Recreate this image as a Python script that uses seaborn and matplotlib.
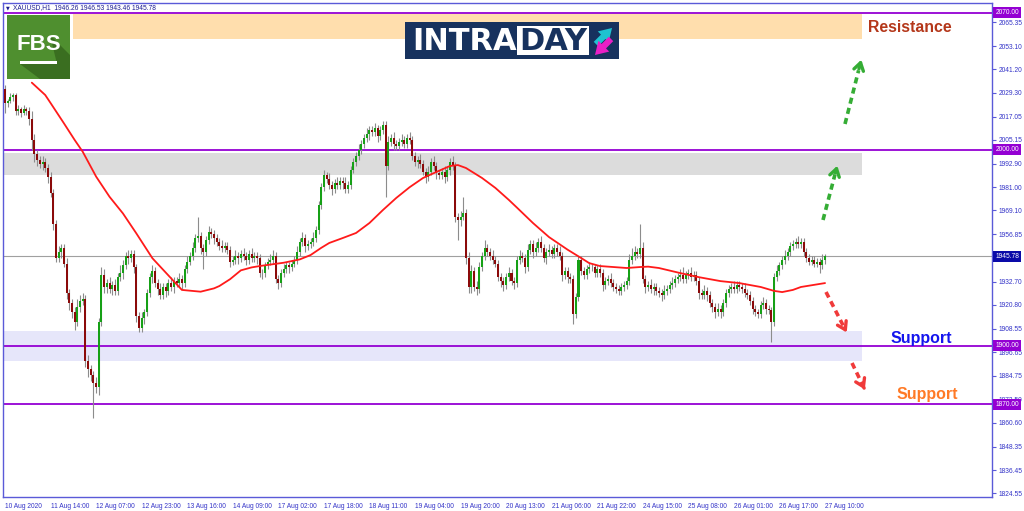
import numpy as np
import pandas as pd
import matplotlib
matplotlib.use("Agg")
import matplotlib.pyplot as plt
from matplotlib.patches import Rectangle, Polygon
import seaborn as sns

# ---- XAUUSD H1 candles (bar 0 = 10 Aug 2020) ----
first_open = 2031
closes = [
    2024, 2025, 2027, 2028, 2020, 2021, 2019, 2021, 2020, 2016,
    2005, 1998, 1995, 1993, 1994, 1991, 1986, 1978, 1962, 1945,
    1948, 1950, 1942, 1927, 1922, 1917, 1912, 1920, 1923, 1924,
    1892, 1888, 1885, 1881, 1879, 1912, 1936, 1930, 1932, 1929,
    1931, 1928, 1935, 1937, 1941, 1946, 1945, 1947, 1940, 1915,
    1909, 1914, 1917, 1927, 1935, 1938, 1932, 1929, 1926, 1930,
    1928, 1932, 1930, 1933, 1932, 1934, 1932, 1939, 1943, 1946,
    1950, 1955, 1956, 1950, 1948, 1954, 1958, 1957, 1955, 1953,
    1951, 1950, 1951, 1949, 1943, 1944, 1946, 1945, 1947, 1946,
    1944, 1947, 1945, 1946, 1945, 1937, 1937, 1941, 1943, 1944,
    1946, 1934, 1932, 1937, 1939, 1941, 1940, 1942, 1944, 1948,
    1953, 1955, 1951, 1952, 1953, 1955, 1959, 1972, 1981, 1987,
    1985, 1982, 1980, 1983, 1982, 1984, 1983, 1980, 1982, 1990,
    1994, 1997, 2000, 2003, 2006, 2008, 2010, 2009, 2011, 2007,
    2010, 2013, 1992, 2004, 2006, 2003, 2002, 2004, 2005, 2003,
    2006, 2005, 1997, 1994, 1995, 1993, 1989, 1986, 1989, 1994,
    1992, 1988, 1987, 1989, 1986, 1990, 1994, 1992, 1966, 1964,
    1966, 1968, 1945, 1930, 1938, 1930, 1929, 1940, 1946, 1950,
    1948, 1946, 1944, 1942, 1935, 1933, 1931, 1935, 1937, 1933,
    1932, 1944, 1946, 1945, 1940, 1949, 1952, 1948, 1950, 1953,
    1950, 1945, 1948, 1949, 1947, 1950, 1948, 1946, 1936, 1938,
    1935, 1934, 1916, 1925, 1944, 1938, 1936, 1939, 1940, 1940,
    1937, 1939, 1937, 1931, 1933, 1934, 1932, 1930, 1929, 1928,
    1930, 1931, 1933, 1944, 1946, 1948, 1947, 1950, 1934, 1930,
    1931, 1929, 1930, 1928, 1927, 1926, 1928, 1929, 1931, 1932,
    1934, 1935, 1936, 1934, 1936, 1937, 1935, 1936, 1933, 1927,
    1926, 1928, 1926, 1922, 1920, 1917, 1919, 1917, 1922, 1927,
    1929, 1930, 1929, 1931, 1930, 1929, 1927, 1926, 1923, 1919,
    1917, 1916, 1921, 1922, 1919, 1918, 1912, 1935, 1938, 1941,
    1944, 1946, 1948, 1951, 1952, 1953, 1952, 1953, 1948, 1945,
    1943, 1944, 1942, 1943, 1941, 1944, 1945.78,
]
wick_up = [
    2, 1, 2, 1, 1, 2, 1, 2, 1, 2,
    4, 3, 2, 2, 3, 2, 2, 3, 2, 2,
    3, 2, 2, 3, 2, 2, 3, 4, 3, 3,
    2, 3, 2, 2, 3, 2, 4, 3, 2, 3,
    2, 3, 2, 4, 3, 2, 3, 2, 2, 2,
    2, 3, 2, 2, 2, 3, 2, 2, 3, 2,
    2, 2, 3, 2, 2, 3, 2, 2, 3, 2,
    3, 2, 10, 2, 2, 2, 3, 2, 2, 2,
    2, 3, 2, 2, 2, 2, 3, 2, 2, 3,
    2, 2, 3, 2, 2, 2, 2, 2, 2, 3,
    3, 2, 2, 2, 3, 2, 2, 2, 2, 3,
    2, 3, 2, 2, 2, 3, 2, 2, 2, 3,
    2, 3, 2, 2, 3, 2, 2, 3, 2, 2,
    2, 2, 3, 2, 2, 3, 2, 2, 3, 2,
    2, 2, 2, 3, 2, 3, 2, 2, 3, 2,
    2, 3, 2, 2, 2, 3, 2, 2, 3, 2,
    3, 2, 2, 2, 3, 2, 2, 3, 2, 2,
    3, 8, 2, 3, 3, 2, 3, 3, 2, 4,
    2, 2, 3, 2, 2, 2, 2, 2, 3, 2,
    2, 2, 3, 2, 2, 3, 2, 2, 3, 2,
    3, 2, 2, 3, 2, 2, 2, 3, 2, 2,
    2, 2, 2, 2, 2, 2, 2, 2, 3, 2,
    2, 2, 3, 2, 2, 2, 3, 2, 2, 2,
    2, 2, 2, 3, 4, 3, 2, 12, 3, 2,
    2, 3, 2, 2, 2, 2, 3, 2, 2, 3,
    2, 2, 3, 4, 2, 2, 3, 2, 2, 2,
    2, 3, 2, 2, 2, 2, 3, 2, 2, 2,
    2, 2, 3, 2, 2, 2, 3, 2, 2, 2,
    2, 2, 2, 3, 2, 2, 2, 2, 3, 2,
    2, 3, 2, 2, 2, 2, 3, 2, 2, 2,
    2, 2, 2, 2, 2, 3, 1,
]
wick_dn = [
    5, 2, 1, 2, 2, 2, 2, 1, 2, 3,
    5, 4, 3, 2, 3, 2, 3, 2, 3, 2,
    2, 3, 2, 3, 4, 3, 4, 2, 3, 2,
    3, 4, 3, 18, 3, 4, 2, 3, 3, 2,
    3, 2, 2, 2, 3, 2, 3, 2, 3, 3,
    2, 2, 3, 2, 2, 3, 2, 3, 2, 2,
    3, 2, 2, 3, 2, 2, 3, 2, 2, 2,
    2, 2, 2, 3, 9, 2, 2, 2, 3, 2,
    2, 2, 2, 2, 3, 2, 2, 3, 2, 2,
    3, 2, 2, 2, 3, 2, 3, 2, 2, 2,
    2, 2, 3, 2, 2, 2, 3, 2, 2, 2,
    2, 2, 3, 2, 2, 2, 2, 2, 2, 2,
    2, 2, 3, 2, 2, 2, 3, 2, 2, 2,
    2, 2, 2, 2, 2, 2, 3, 2, 2, 3,
    2, 2, 16, 2, 2, 3, 2, 2, 2, 2,
    2, 2, 2, 2, 3, 2, 2, 3, 2, 2,
    2, 3, 2, 2, 3, 2, 3, 2, 3, 10,
    3, 2, 3, 3, 3, 2, 3, 2, 2, 2,
    2, 2, 2, 2, 2, 3, 3, 2, 2, 2,
    3, 2, 2, 2, 3, 2, 2, 3, 2, 2,
    2, 2, 3, 2, 2, 2, 2, 2, 3, 2,
    3, 2, 5, 2, 2, 2, 2, 2, 2, 2,
    2, 2, 2, 3, 2, 2, 2, 2, 2, 2,
    2, 2, 2, 2, 2, 2, 2, 2, 2, 3,
    2, 2, 3, 2, 2, 3, 2, 2, 2, 2,
    2, 2, 2, 2, 2, 2, 2, 2, 2, 3,
    2, 2, 3, 2, 3, 3, 2, 3, 2, 2,
    2, 2, 2, 2, 2, 2, 2, 2, 2, 3,
    2, 2, 2, 2, 3, 2, 10, 2, 2, 2,
    2, 2, 2, 2, 2, 2, 2, 2, 2, 2,
    2, 2, 2, 2, 4, 2, 2,
]

# red moving average, sampled along the line (bar index, price)
ma_bar = [10, 15, 17, 22, 26, 29, 34, 39, 44, 49, 55, 62, 66, 73, 78, 80, 84, 88,
          92, 95, 104, 110, 114, 118, 121, 126, 131, 136, 141, 146, 151, 156,
          161, 166, 169, 172, 178, 183, 188, 191, 197, 203, 210, 215, 218, 222,
          232, 237, 240, 244, 252, 259, 267, 274, 282, 287, 290, 294, 297, 306]
ma_val = [2034.4, 2028.1, 2024.0, 2013.6, 2005.1, 1999.1, 1986.4, 1976.1, 1967.6,
          1957.4, 1944.7, 1934.4, 1928.5, 1927.6, 1929.3, 1930.5, 1934.0, 1938.5,
          1940.0, 1940.7, 1942.4, 1944.1, 1946.3, 1950.0, 1952.5, 1955.0, 1957.6,
          1962.7, 1969.3, 1975.5, 1981.0, 1985.7, 1988.8, 1991.8, 1992.3, 1990.8,
          1985.7, 1980.6, 1974.5, 1970.6, 1962.7, 1955.5, 1949.0, 1944.8, 1942.2,
          1940.7, 1939.7, 1940.2, 1940.4, 1939.7, 1937.1, 1935.0, 1933.0, 1932.0,
          1930.0, 1928.0, 1927.4, 1928.5, 1930.0, 1932.0]

# levels and zones
levels = [2070.00, 2000.00, 1900.00, 1870.00]
last_price = 1945.78
resistance_zone = (2056.7, 2069.5)
upper_zone = (1987.2, 1998.5)
support_zone = (1892.2, 1907.5)

price_ticks = [2065.35, 2053.10, 2041.20, 2029.30, 2017.05, 2005.15, 1992.90,
               1981.00, 1969.10, 1956.85, 1932.70, 1920.80, 1908.55, 1896.65,
               1884.75, 1872.50, 1860.60, 1848.35, 1836.45, 1824.55]
time_labels = ["10 Aug 2020", "11 Aug 14:00", "12 Aug 07:00", "12 Aug 23:00",
               "13 Aug 16:00", "14 Aug 09:00", "17 Aug 02:00", "17 Aug 18:00",
               "18 Aug 11:00", "19 Aug 04:00", "19 Aug 20:00", "20 Aug 13:00",
               "21 Aug 06:00", "21 Aug 22:00", "24 Aug 15:00", "25 Aug 08:00",
               "26 Aug 01:00", "26 Aug 17:00", "27 Aug 10:00"]
time_step = 17

# ---- build OHLC table ----
df = pd.DataFrame({"close": closes})
df["open"] = df["close"].shift(1).fillna(first_open)
df["high"] = df[["open", "close"]].max(axis=1) + np.array(wick_up)
df["low"] = df[["open", "close"]].min(axis=1) - np.array(wick_dn)
df["bar"] = np.arange(len(df))
df["bull"] = df["close"] >= df["open"]

sns.set_style("white")
plt.rcParams['font.family'] = ['Liberation Sans', 'DejaVu Sans']

W, H = 1024, 511
AXIS_BLUE = "#5a5ad8"
TXT_BLUE = "#3434c8"
PURPLE = "#9400D3"
SMALL = 4.8

fig = plt.figure(figsize=(W / 100, H / 100), dpi=100)
ax = fig.add_axes([3 / W, 1 - 497 / H, (992 - 3) / W, (497 - 3) / H])
ax.set_xlim(-0.75, 368.3)
ax.set_ylim(1822.7, 2075.1)

# zones
ax.add_patch(Rectangle((25.4, resistance_zone[0]), 319.8 - 25.4,
                       resistance_zone[1] - resistance_zone[0],
                       color="#FFDEAD", lw=0, zorder=0))
ax.add_patch(Rectangle((-0.75, upper_zone[0]), 319.8 + 0.75,
                       upper_zone[1] - upper_zone[0],
                       color="#DCDCDC", lw=0, zorder=0))
ax.add_patch(Rectangle((-0.75, support_zone[0]), 319.8 + 0.75,
                       support_zone[1] - support_zone[0],
                       color="#E6E6FA", lw=0, zorder=0))

for lv in levels:
    ax.axhline(lv, color=PURPLE, lw=1.3, zorder=1)
ax.axhline(last_price, color="#a0a0a0", lw=0.8, zorder=1)

# candles
ax.vlines(df["bar"], df["low"], df["high"], color="#8c8c8c", lw=0.8, zorder=2)
body = (df["close"] - df["open"]).where(lambda s: s.abs() > 0.4, 0.4)
ax.bar(df["bar"], body, bottom=df["open"], width=0.75,
       color=np.where(df["bull"], "#16a016", "#8b0a0a"), lw=0, zorder=3)

# moving average
sns.lineplot(x=ma_bar, y=ma_val, ax=ax, color="#ff1a1a", lw=1.3, sort=False, zorder=4)

# axes styling
for sp in ax.spines.values():
    sp.set_color(AXIS_BLUE)
    sp.set_linewidth(1.0)
ax.yaxis.tick_right()
ax.set_yticks(price_ticks)
ax.set_yticklabels([f"{t:.2f}" for t in price_ticks])
ax.set_xticks(np.arange(len(time_labels)) * time_step)
ax.set_xticklabels(time_labels, ha="left")
ax.tick_params(axis="both", labelsize=SMALL, colors=AXIS_BLUE, labelcolor=TXT_BLUE,
               length=3, width=0.8, direction="out", pad=1.5)
ax.tick_params(axis="y", right=True, left=False)
ax.set_xlabel("")
ax.set_ylabel("")

ytr = ax.get_yaxis_transform()
for lv in levels:
    ax.text(1.0035, lv, f"{lv:.2f}", transform=ytr, fontsize=SMALL, color="white",
            va="center", ha="left", clip_on=False, zorder=10,
            bbox=dict(boxstyle="square,pad=0.3", fc=PURPLE, ec="none"))
ax.text(1.0035, last_price, f"{last_price:.2f}", transform=ytr, fontsize=SMALL,
        color="white", va="center", ha="left", clip_on=False, zorder=10,
        bbox=dict(boxstyle="square,pad=0.3", fc="#0a0aa8", ec="none"))

# ---- overlay in pixel coordinates for header, logos and drawings ----
ov = fig.add_axes([0, 0, 1, 1], zorder=5)
ov.set_xlim(0, W)
ov.set_ylim(H, 0)
ov.axis("off")

ov.text(6, 7.5, "\u25BC", fontsize=3.5, color="#1a1a90", va="center", ha="left",
        family="DejaVu Sans")
ov.text(13, 7.5, "XAUUSD,H1  1946.26 1946.53 1943.46 1945.78", fontsize=SMALL,
        color="#1a1a90", va="center", ha="left")

# FBS logo
ov.add_patch(Rectangle((7, 15), 63, 64, color="#4f8f2f", lw=0))
ov.add_patch(Polygon([(50, 35), (70, 55), (70, 79), (40, 79), (20, 64), (57, 64)],
                     closed=True, color="#3a6e20", lw=0))
ov.text(38.5, 44, "FBS", fontsize=16, fontweight="bold", color="white",
        ha="center", va="center")
ov.add_patch(Rectangle((20, 61), 37, 3, color="white", lw=0))

# INTRADAY logo
ov.add_patch(Rectangle((405, 22), 214, 37, color="#17325e", lw=0))
ov.text(412, 41, "INTRA", fontsize=22, fontweight="bold", color="white",
        ha="left", va="center", family="DejaVu Sans")
ov.add_patch(Rectangle((517, 26), 72, 29, color="white", lw=0))
ov.text(553, 41, "DAY", fontsize=22, fontweight="bold", color="#17325e",
        ha="center", va="center", family="DejaVu Sans")
ov.annotate("", xy=(614, 26), xytext=(594, 46),
            arrowprops=dict(arrowstyle="simple,head_width=1.1,head_length=0.9,tail_width=0.45",
                            color="#1fc3d0", lw=0))
ov.annotate("", xy=(593, 57), xytext=(613, 37),
            arrowprops=dict(arrowstyle="simple,head_width=1.1,head_length=0.9,tail_width=0.45",
                            color="#e81fc6", lw=0))

# labels
ov.text(910, 27, "Resistance", fontsize=11.4, fontweight="bold", color="#b4371a",
        ha="center", va="center")
ov.text(921, 339, "Support", fontsize=11.5, fontweight="bold", color="#1515ee",
        ha="center", va="center")
ov.text(927, 394, "Support", fontsize=11.5, fontweight="bold", color="#ff7a26",
        ha="center", va="center")


def dashed_arrow(x0, y0, x1, y1, color):
    f = 0.8
    ov.plot([x0, x0 + (x1 - x0) * f], [y0, y0 + (y1 - y0) * f], color=color,
            lw=2.6, ls=(0, (1.7, 1.2)), solid_capstyle="butt")
    ov.annotate("", xy=(x1, y1), xytext=(x0 + (x1 - x0) * 0.78, y0 + (y1 - y0) * 0.78),
                arrowprops=dict(arrowstyle="->,head_length=0.55,head_width=0.35",
                                color=color, lw=2.4))


dashed_arrow(845, 124, 862, 57, "#35ad35")
dashed_arrow(823, 220, 838, 163, "#35ad35")
dashed_arrow(826, 292, 848, 335, "#f03a3a")
dashed_arrow(852, 363, 866, 392, "#f03a3a")

fig.savefig("out.png", dpi=100)
